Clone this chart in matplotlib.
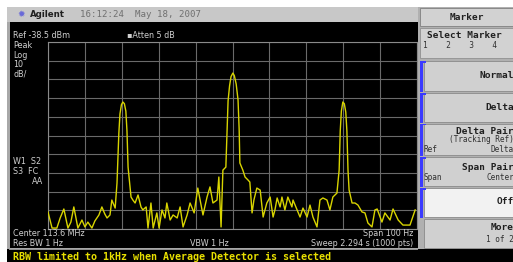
import matplotlib
matplotlib.use("Agg")
import matplotlib.pyplot as plt
from matplotlib.patches import Rectangle

# ---- data ----
center_label = "Center 113.6 MHz"
ref_level = -38.5          # dBm (top of graticule)
db_per_div = 10
span_hz = 100

freq_hz = [-50.0, -48.9, -47.6, -46.7, -45.7, -44.6, -43.8, -43.0, -41.9, -40.8,
           -40.0, -39.2, -38.1, -37.3, -36.2, -35.4, -34.6, -34.0, -33.2, -32.7,
           -31.8, -31.3, -30.8, -30.5, -30.1, -29.7, -29.3, -28.9, -28.6, -28.3,
           -27.5, -27.0,
           -26.4, -25.6, -24.8, -24.3, -23.4, -22.9, -22.1, -21.5, -20.5, -19.9,
           -19.1, -18.3, -17.8, -16.9, -16.1, -15.0, -14.2, -13.4, -12.3, -11.5,
           -10.4, -9.4, -8.0, -6.9, -6.1, -5.3, -4.2, -3.7, -3.1, -2.6,
           -1.8, -1.5, -1.2, -0.8, -0.4, 0.1, 0.5, 1.0, 1.5, 1.8, 2.0, 2.8,
           3.4, 4.2, 4.7, 5.3, 5.8, 6.6, 7.5, 8.3, 8.8, 9.3,
           10.2, 11.0, 11.5, 12.1, 12.9, 13.4, 14.2, 15.0, 16.1, 16.4,
           17.5, 18.3, 19.1, 20.2, 21.0, 21.8, 22.9, 23.7, 24.5, 25.6,
           26.4, 27.2, 28.3, 28.9, 29.2, 29.5, 29.9, 30.3, 30.7, 31.0, 31.3,
           31.6, 32.4, 33.2, 34.0, 35.1, 35.9, 36.7, 37.8, 38.6, 39.2,
           40.5, 41.3, 42.7, 43.5, 44.9, 46.2, 48.1, 49.5]
level_dbm = [-129.4, -138.0, -138.0, -132.6, -127.8, -138.0, -134.8, -126.7, -138.0, -133.7,
             -137.4, -134.8, -138.0, -134.2, -131.0, -126.7, -130.5, -132.6, -131.0, -123.0,
             -127.3, -113.9, -87.2, -77.0, -72.0, -70.6, -71.5, -75.5, -86.0, -105.4,
             -121.4, -123.0,
             -124.6, -120.3, -126.7, -128.3, -126.7, -138.0, -124.6, -138.0, -129.9, -138.0,
             -128.3, -132.6, -124.6, -133.7, -131.0, -132.6, -126.7, -137.4, -131.0, -124.6,
             -129.9, -116.6, -131.0, -121.4, -116.0, -124.6, -123.0, -110.7, -137.4, -107.0,
             -105.4, -87.0, -70.0, -62.0, -57.0, -55.1, -56.5, -61.0, -69.5, -85.0, -103.2, -107.0,
             -110.7, -112.3, -113.4, -129.9, -123.0, -116.6, -117.7, -132.1, -128.3, -124.6,
             -121.4, -132.1, -128.3, -121.9, -126.7, -121.4, -128.3, -121.4, -126.7, -123.0,
             -128.3, -132.1, -127.3, -132.1, -125.7, -132.1, -137.4, -123.0, -121.9, -123.0,
             -128.3, -121.4, -119.3, -107.0, -86.0, -75.5, -70.6, -71.5, -76.0, -86.0, -107.0,
             -117.7, -124.6, -124.6, -125.7, -129.4, -129.9, -135.3, -137.4, -128.3, -127.8,
             -134.8, -129.9, -133.7, -127.8, -133.7, -136.4, -136.4, -128.3]

# ---- figure in pixel units ----
W, H = 513, 262
fig = plt.figure(figsize=(W / 100, H / 100), dpi=100, facecolor="white")

def fx(x):
    return x / W

def fy(y):
    return 1 - y / H

def rect(x0, y0, x1, y1, fc, ec="none", lw=0.0, z=0):
    r = Rectangle((fx(x0), fy(y1)), (x1 - x0) / W, (y1 - y0) / H,
                  transform=fig.transFigure, facecolor=fc, edgecolor=ec,
                  linewidth=lw, zorder=z)
    fig.add_artist(r)

def txt(x, y, s, color="#d0d0d0", size=5.6, ha="left", weight="normal",
        family="DejaVu Sans", **kw):
    fig.text(fx(x), fy(y), s, color=color, fontsize=size, ha=ha, va="center",
             fontweight=weight, family=family, zorder=5, **kw)

# screen frame
rect(7, 7, 513, 262, "#a8a8a8")
rect(7, 7, 418, 22, "#c8c8c8")           # title bar
rect(10, 22, 418, 248, "black")          # trace area
rect(7, 249, 513, 262, "black")          # status bar
rect(9, 249, 418, 250, "#909090")

# title bar text
txt(18, 14.5, "\u2739", color="#6a6ad8", size=6.5)
txt(30, 14.5, "Agilent", color="#202020", size=6.2, weight="bold")
txt(80, 14.5, "16:12:24  May 18, 2007", color="#707070", size=6.6,
    family="DejaVu Sans Mono")

# right soft-key panel
rect(418, 7, 513, 249, "#b0b0b0")
rect(420, 8, 513, 26, "#d2d2d2", ec="#808080", lw=0.6)
txt(467, 17, "Marker", color="#202020", size=6.8, weight="bold", ha="center",
    family="DejaVu Sans Mono")
rect(420, 28, 513, 58, "#d2d2d2", ec="#909090", lw=0.6)
txt(427, 35, "Select Marker", color="#202020", size=6.8, weight="bold",
    family="DejaVu Sans Mono")
txt(423, 45, "1    2    3    4", color="#303030", size=5.6, family="DejaVu Sans Mono")

buttons = [(61, 91, "#d0d0d0"), (93, 122, "#d0d0d0"), (124, 155, "#d0d0d0"),
           (157, 186, "#d0d0d0"), (188, 217, "#f2f2f2"), (219, 248, "#d0d0d0")]
for y0, y1, c in buttons:
    rect(423.5, y0, 515, y1, c, ec="#8a8a8a", lw=0.6, z=1)
# blue brackets
for y0, y1, _ in buttons[:5]:
    rect(420, y0, 422.5, y1 + 1, "#3a3aff", z=2)
    rect(420, y0, 426, y0 + 1.5, "#3a3aff", z=2)

bk = dict(color="#202020", weight="bold", family="DejaVu Sans Mono", size=6.8)
txt(514, 76, "Normal", ha="right", **bk)
txt(514, 107, "Delta", ha="right", **bk)
txt(514, 131, "Delta Pair", ha="right", **bk)
txt(514, 140, "(Tracking Ref)", ha="right", color="#303030", size=5.6,
    family="DejaVu Sans Mono")
txt(424, 149, "Ref", color="#303030", size=5.6, family="DejaVu Sans Mono")
txt(514, 149, "Delta", ha="right", color="#303030", size=5.6,
    family="DejaVu Sans Mono")
txt(514, 167, "Span Pair", ha="right", **bk)
txt(424, 177, "Span", color="#303030", size=5.6, family="DejaVu Sans Mono")
txt(514, 177, "Center", ha="right", color="#303030", size=5.6,
    family="DejaVu Sans Mono")
txt(514, 202, "Off", ha="right", **bk)
txt(514, 228, "More", ha="right", **bk)
txt(514, 239, "1 of 2", ha="right", color="#303030", size=5.6,
    family="DejaVu Sans Mono")

# annotations on screen
txt(13, 36, f"Ref {ref_level} dBm", size=5.8)
txt(127, 36, "\u25aaAtten 5 dB", size=5.8)
txt(13, 46, "Peak", size=5.8)
txt(13, 55, "Log", size=5.8)
txt(13, 64.5, str(db_per_div), size=5.8)
txt(13, 74, "dB/", size=5.8)
txt(13, 161, "W1  S2", size=5.8)
txt(13, 171, "S3  FC", size=5.8)
txt(43, 181, "AA", size=5.8, ha="right")
txt(13, 234, center_label, size=5.8)
txt(13, 243.5, "Res BW 1 Hz", size=5.8)
txt(190, 243.5, "VBW 1 Hz", size=5.8)
txt(413, 234, f"Span {span_hz} Hz", size=5.8, ha="right")
txt(413, 243.5, "Sweep 2.294 s (1000 pts)", size=5.8, ha="right")
txt(13, 256.5, "RBW limited to 1kHz when Average Detector is selected",
    color="#e8e000", size=7.2, weight="bold", family="DejaVu Sans Mono")

# graticule + trace
ax = fig.add_axes([fx(48), fy(229), 369 / W, 187 / H])
ax.set_facecolor("black")
ax.set_xlim(-span_hz / 2, span_hz / 2)
ax.set_ylim(ref_level - 10 * db_per_div, ref_level)
ax.set_xticks([-span_hz / 2 + i * span_hz / 10 for i in range(11)])
ax.set_yticks([ref_level - i * db_per_div for i in range(11)])
ax.tick_params(length=0, labelbottom=False, labelleft=False)
ax.grid(True, color="#6a6a6a", linewidth=0.8)
for s in ax.spines.values():
    s.set_color("#8a8a8a")
    s.set_linewidth(0.8)
ax.plot(freq_hz, level_dbm, color="#d8d400", linewidth=1.0, zorder=3,
        solid_joinstyle="round")

fig.savefig("out.png", dpi=100, facecolor="white")
